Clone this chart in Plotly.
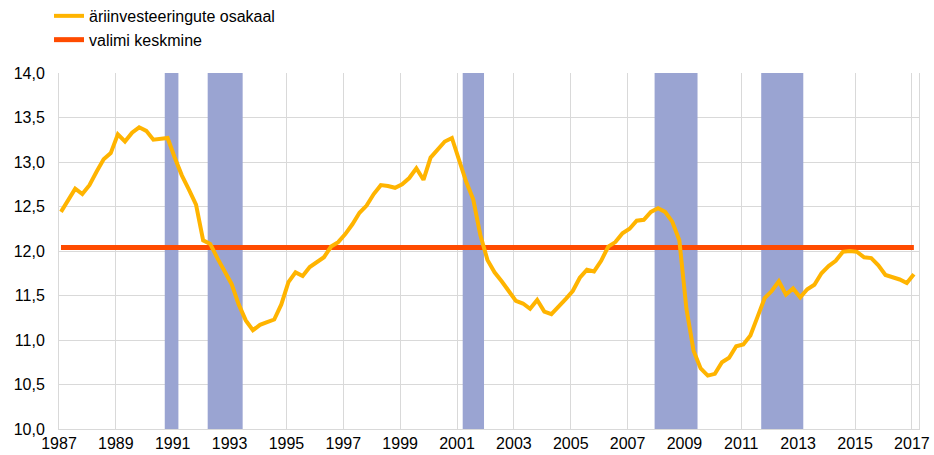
import plotly.graph_objects as go

# Quarterly observations (1987Q1 ... 2017Q1), share of business investment
start_year = 1987.07
step = 0.25
investment_share = [
    12.44, 12.58, 12.70, 12.64, 12.74, 12.89, 13.03, 13.10,
    13.31, 13.23, 13.33, 13.39, 13.35, 13.25, 13.26, 13.27,
    13.05, 12.85, 12.69, 12.52, 12.12, 12.08, 11.92, 11.78,
    11.63, 11.40, 11.22, 11.11, 11.17, 11.20, 11.23, 11.40,
    11.65, 11.76, 11.72, 11.82, 11.88, 11.93, 12.05, 12.10,
    12.19, 12.30, 12.43, 12.51, 12.64, 12.74, 12.73, 12.71,
    12.75, 12.82, 12.93, 12.80, 13.05, 13.14, 13.23, 13.27,
    13.03, 12.78, 12.58, 12.18, 11.90, 11.76, 11.66, 11.55,
    11.44, 11.41, 11.35, 11.45, 11.32, 11.29, 11.37, 11.46,
    11.55, 11.70, 11.79, 11.77, 11.89, 12.05, 12.10, 12.20,
    12.25, 12.34, 12.35, 12.44, 12.48, 12.44, 12.33, 12.12,
    11.35, 10.88, 10.68, 10.60, 10.62, 10.75, 10.80, 10.93,
    10.95, 11.05, 11.26, 11.47, 11.55, 11.66, 11.51, 11.58,
    11.48, 11.57, 11.62, 11.75, 11.83, 11.89, 11.99, 12.00,
    11.99, 11.93, 11.92, 11.84, 11.73, 11.71, 11.68, 11.64,
    11.74,
]
sample_mean = 12.04

# Recession periods (fractional years)
recession_start = [1990.72, 1992.23, 2001.20, 2007.95, 2011.70]
recession_end = [1991.20, 1993.46, 2001.95, 2009.46, 2013.18]

tick_years = list(range(1987, 2018, 2))
y_ticks = [10.0, 10.5, 11.0, 11.5, 12.0, 12.5, 13.0, 13.5, 14.0]
y_min, y_max = 10.0, 14.0

series_names = ["äriinvesteeringute osakaal", "valimi keskmine"]
colors = ["#FFB400", "#FF4B00"]
recession_color = "#9aa4d2"

x_vals = [start_year + i * step for i in range(len(investment_share))]

fig = go.Figure()
# Recession shading as bars spanning the full value range
fig.add_trace(go.Bar(
    x=[(s + e) / 2 for s, e in zip(recession_start, recession_end)],
    width=[e - s for s, e in zip(recession_start, recession_end)],
    y=[y_max - y_min] * len(recession_start),
    base=[y_min] * len(recession_start),
    marker=dict(color=recession_color, line=dict(width=0)),
    showlegend=False, hoverinfo="skip",
))
fig.add_trace(go.Scatter(
    x=x_vals, y=[sample_mean] * len(x_vals), mode="lines",
    name=series_names[1], line=dict(color=colors[1], width=5),
    legendrank=2,
))
fig.add_trace(go.Scatter(
    x=x_vals, y=investment_share, mode="lines",
    name=series_names[0], line=dict(color=colors[0], width=4),
    legendrank=1,
))

fig.update_layout(
    width=934, height=455,
    margin=dict(l=59, r=15, t=73, b=26, autoexpand=False),
    paper_bgcolor="white", plot_bgcolor="white",
    separators=", ",
    barmode="overlay",
    font=dict(family="Liberation Sans, Arial, sans-serif", size=16, color="#000000"),
    showlegend=True,
    legend=dict(x=-0.0116, y=1.208, xanchor="left", yanchor="top",
                orientation="v", font=dict(size=16), itemwidth=30,
                traceorder="normal", tracegroupgap=0, bgcolor="rgba(0,0,0,0)"),
    xaxis=dict(range=[1987, 2017.25], tickmode="array", tickvals=tick_years,
               ticktext=[str(y) for y in tick_years], showgrid=True,
               gridcolor="#d9d9d9", gridwidth=1, showline=True,
               linecolor="#d9d9d9", linewidth=1, zeroline=False, ticks="",
               tickfont=dict(size=16), automargin=False),
    yaxis=dict(range=[y_min, y_max], tickmode="array", tickvals=y_ticks,
               tickformat=".1f", showgrid=True, gridcolor="#d9d9d9",
               gridwidth=1, showline=True, linecolor="#d9d9d9", linewidth=1,
               mirror=True, zeroline=False, ticks="", ticklabelstandoff=10,
               tickfont=dict(size=16), automargin=False),
)

fig.write_html(
    "out.html",
    config={"displayModeBar": False},
    post_script="document.body.style.margin='0';document.body.style.padding='0';",
)
